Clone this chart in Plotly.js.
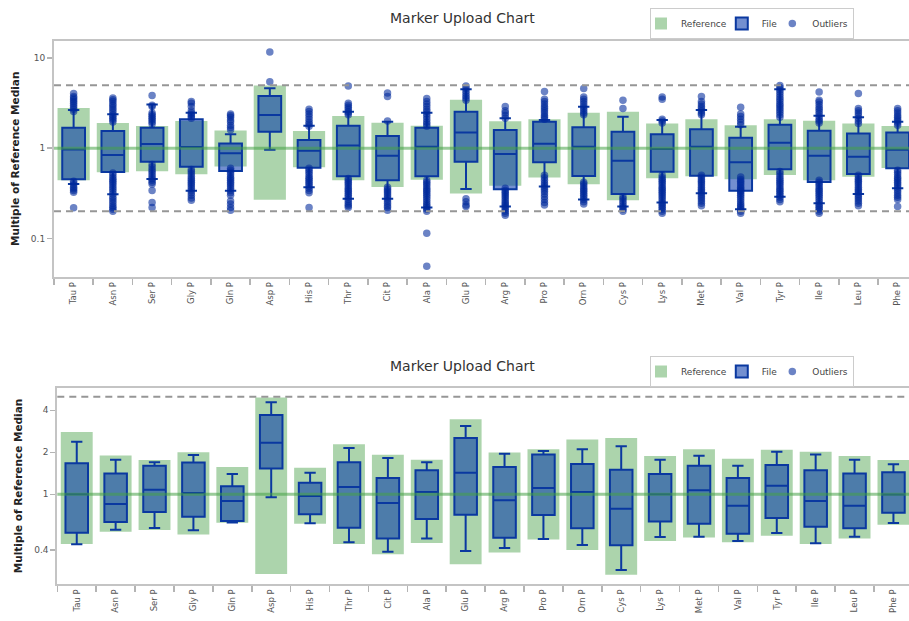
<!DOCTYPE html>
<html>
<head>
<meta charset="utf-8">
<script src="https://cdn.plot.ly/plotly-3.0.1.min.js"></script>
<style>html,body{margin:0;padding:0;background:#fff;}#chart{width:909px;height:621px;}</style>
</head>
<body>
<div id="chart"></div>
<script>
const categories = ["Tau P","Asn P","Ser P","Gly P","Gln P","Asp P","His P","Thr P","Cit P","Ala P","Glu P","Arg P","Pro P","Orn P","Cys P","Lys P","Met P","Val P","Tyr P","Ile P","Leu P","Phe P"];

// Reference ranges (shared by both charts)
const refLow  = [0.44, 0.54, 0.555, 0.515, 0.625, 0.268, 0.615, 0.44, 0.372, 0.447, 0.315, 0.383, 0.474, 0.398, 0.265, 0.463, 0.49, 0.453, 0.505, 0.44, 0.482, 0.605];
const refHigh = [2.8, 1.9, 1.76, 2.0, 1.57, 4.95, 1.55, 2.28, 1.92, 1.77, 3.45, 1.99, 2.1, 2.47, 2.53, 1.88, 2.1, 1.8, 2.09, 2.02, 1.88, 1.76];

// Chart 1 file box statistics
const file1Q1     = [0.452, 0.545, 0.709, 0.623, 0.56, 1.52, 0.608, 0.49, 0.44, 0.49, 0.709, 0.35, 0.698, 0.492, 0.31, 0.549, 0.495, 0.338, 0.583, 0.422, 0.517, 0.598];
const file1Median = [0.97, 0.84, 1.11, 1.03, 0.88, 2.33, 0.94, 1.07, 0.826, 1.04, 1.49, 0.862, 1.12, 1.04, 0.727, 0.98, 1.04, 0.698, 1.15, 0.826, 0.805, 0.96];
const file1Q3     = [1.69, 1.55, 1.69, 2.09, 1.13, 3.79, 1.23, 1.78, 1.37, 1.69, 2.54, 1.59, 1.97, 1.71, 1.52, 1.43, 1.62, 1.31, 1.82, 1.56, 1.46, 1.49];
const file1Lower  = [0.40, 0.308, 0.455, 0.338, 0.338, 0.96, 0.368, 0.275, 0.275, 0.22, 0.353, 0.225, 0.375, 0.27, 0.225, 0.25, 0.316, 0.21, 0.29, 0.245, 0.31, 0.36];
const file1Upper  = [2.65, 2.38, 3.05, 2.48, 1.43, 4.62, 1.78, 2.54, 1.97, 2.48, 4.5, 2.15, 2.05, 2.89, 2.23, 2.05, 2.65, 1.73, 4.5, 2.29, 2.2, 1.97];

// Chart 1 outliers, one list per category
const file1Outliers = [
  [4.05, 3.75, 3.6, 3.45, 3.3, 3.15, 3.0, 2.85, 2.7, 2.55, 0.43, 0.41, 0.39, 0.37, 0.355, 0.34, 0.325, 0.219],
  [3.6, 3.45, 3.3, 3.1, 2.95, 2.8, 2.65, 2.5, 2.35, 2.25, 2.15, 2.05, 1.95, 0.53, 0.5, 0.47, 0.45, 0.43, 0.41, 0.39, 0.37, 0.35, 0.33, 0.31, 0.29, 0.275, 0.26, 0.245, 0.23, 0.22, 0.21, 0.2],
  [3.85, 3.0, 2.9, 2.45, 2.35, 2.25, 2.15, 2.05, 1.95, 1.85, 0.66, 0.62, 0.58, 0.55, 0.52, 0.49, 0.46, 0.44, 0.42, 0.40, 0.34, 0.25, 0.22],
  [3.3, 3.15, 2.9, 2.6, 2.45, 2.35, 2.25, 2.15, 0.58, 0.55, 0.52, 0.49, 0.46, 0.44, 0.42, 0.40, 0.38, 0.36, 0.34, 0.32, 0.30, 0.28, 0.265],
  [2.4, 2.3, 2.2, 2.05, 1.95, 1.8, 1.7, 1.6, 0.6, 0.57, 0.54, 0.51, 0.48, 0.46, 0.44, 0.42, 0.40, 0.38, 0.36, 0.34, 0.32, 0.30, 0.26, 0.24, 0.22, 0.205],
  [11.7, 5.45],
  [2.7, 2.55, 2.4, 2.25, 2.1, 1.95, 1.85, 1.75, 0.6, 0.57, 0.54, 0.51, 0.48, 0.46, 0.44, 0.42, 0.40, 0.38, 0.36, 0.34, 0.32, 0.22],
  [4.9, 3.15, 3.0, 2.85, 2.7, 2.55, 2.45, 2.35, 0.46, 0.44, 0.42, 0.40, 0.38, 0.36, 0.345, 0.33, 0.315, 0.30, 0.285, 0.27, 0.255, 0.24, 0.23, 0.22],
  [4.1, 3.75, 2.0, 0.37, 0.35, 0.335, 0.32, 0.305, 0.29, 0.275, 0.26, 0.245, 0.23, 0.22, 0.205],
  [3.55, 3.3, 3.1, 2.9, 2.7, 2.55, 2.4, 2.25, 2.1, 1.95, 1.85, 1.75, 0.44, 0.42, 0.40, 0.38, 0.36, 0.345, 0.33, 0.315, 0.30, 0.285, 0.27, 0.255, 0.24, 0.23, 0.22, 0.21, 0.2, 0.114, 0.049],
  [4.9, 4.6, 4.3, 4.05, 3.8, 3.6, 3.4, 0.275, 0.255, 0.235, 0.225],
  [2.9, 2.6, 2.45, 2.3, 2.15, 0.36, 0.34, 0.325, 0.31, 0.295, 0.28, 0.265, 0.25, 0.24, 0.23, 0.22, 0.21, 0.2, 0.19, 0.18],
  [4.25, 3.5, 3.3, 3.1, 2.9, 2.75, 2.6, 2.45, 2.3, 2.2, 2.1, 0.5, 0.47, 0.44, 0.41, 0.39, 0.37, 0.35, 0.33, 0.31, 0.29, 0.27, 0.25, 0.235],
  [4.6, 3.7, 3.5, 3.3, 3.1, 2.9, 2.75, 2.6, 2.45, 2.35, 0.42, 0.40, 0.38, 0.36, 0.345, 0.33, 0.315, 0.30, 0.285, 0.27, 0.255, 0.24],
  [3.4, 2.75, 0.29, 0.275, 0.26, 0.245, 0.23, 0.22, 0.21, 0.2],
  [3.7, 3.5, 2.1, 2.0, 1.9, 0.5, 0.47, 0.45, 0.43, 0.41, 0.39, 0.37, 0.355, 0.34, 0.325, 0.31, 0.295, 0.28, 0.265, 0.25, 0.24, 0.23, 0.22, 0.21, 0.2, 0.19],
  [3.75, 3.3, 3.1, 2.9, 2.75, 2.6, 2.45, 2.35, 0.5, 0.475, 0.45, 0.43, 0.41, 0.39, 0.37, 0.35, 0.335, 0.32, 0.305, 0.29, 0.275, 0.26, 0.245, 0.23],
  [2.85, 2.4, 2.25, 2.1, 1.95, 1.82, 0.48, 0.45, 0.43, 0.41, 0.39, 0.37, 0.355, 0.34, 0.33, 0.315, 0.30, 0.285, 0.27, 0.255, 0.24, 0.23, 0.22, 0.21, 0.2, 0.19],
  [4.95, 4.7, 4.45, 4.2, 3.95, 3.7, 3.5, 3.3, 3.1, 2.95, 2.8, 2.65, 2.5, 2.35, 2.2, 0.55, 0.52, 0.49, 0.46, 0.44, 0.42, 0.40, 0.38, 0.36, 0.345, 0.33, 0.315, 0.30, 0.285, 0.27, 0.255],
  [4.2, 3.4, 3.25, 3.05, 2.85, 2.7, 2.55, 2.4, 2.25, 2.1, 2.0, 1.9, 0.44, 0.42, 0.40, 0.38, 0.36, 0.345, 0.33, 0.315, 0.30, 0.285, 0.27, 0.255, 0.24, 0.23, 0.22, 0.21, 0.2, 0.19],
  [4.05, 2.75, 2.6, 2.45, 2.3, 2.15, 2.0, 1.88, 0.5, 0.47, 0.45, 0.43, 0.41, 0.39, 0.37, 0.35, 0.335, 0.32, 0.305, 0.29, 0.275, 0.26, 0.245, 0.23],
  [2.75, 2.6, 2.45, 2.3, 2.2, 2.1, 2.0, 1.9, 1.8, 0.57, 0.54, 0.51, 0.48, 0.46, 0.44, 0.42, 0.40, 0.38, 0.36, 0.34, 0.32, 0.30, 0.285, 0.27, 0.225]
];

// Chart 2 file box statistics (no outliers)
const file2Q1     = [0.531, 0.633, 0.747, 0.691, 0.644, 1.53, 0.718, 0.576, 0.483, 0.665, 0.714, 0.489, 0.711, 0.570, 0.431, 0.637, 0.616, 0.522, 0.676, 0.586, 0.570, 0.738];
const file2Median = [1.0, 0.852, 1.08, 1.02, 0.895, 2.34, 0.973, 1.13, 0.866, 1.04, 1.43, 0.905, 1.11, 1.04, 0.789, 1.0, 1.07, 0.829, 1.15, 0.895, 0.829, 0.995];
const file2Q3     = [1.67, 1.41, 1.60, 1.69, 1.14, 3.70, 1.21, 1.70, 1.31, 1.485, 2.53, 1.57, 1.93, 1.65, 1.50, 1.40, 1.60, 1.31, 1.62, 1.485, 1.41, 1.44];
const file2Lower  = [0.438, 0.558, 0.573, 0.552, 0.627, 0.952, 0.619, 0.453, 0.388, 0.483, 0.392, 0.412, 0.478, 0.433, 0.287, 0.494, 0.496, 0.463, 0.528, 0.445, 0.496, 0.623];
const file2Upper  = [2.38, 1.77, 1.70, 1.91, 1.40, 4.56, 1.43, 2.15, 1.82, 1.70, 3.09, 1.95, 2.04, 2.10, 2.21, 1.77, 1.89, 1.60, 2.02, 1.93, 1.77, 1.64];
const file2Outliers = categories.map(() => []);

const chartTitle = "Marker Upload Chart";
const yTitle = "Multiple of Reference Median";
const refLines1 = [0.2, 5];
const refLines2 = [5];

const REF_COLOR = "rgb(172,212,172)";
const BOX_LINE = "rgb(10,56,160)";
const BOX_FILL = "rgba(0,51,170,0.55)";
const PT_COLOR = "rgba(0,42,155,0.58)";

function flatten(outliers) {
  const xs = [], ys = [];
  outliers.forEach((list, i) => list.forEach(v => { xs.push(categories[i]); ys.push(v); }));
  if (!xs.length) { xs.push(null); ys.push(null); }
  return {xs, ys};
}

function makeTraces(xa, ya, leg, q1, med, q3, lo, hi, outs) {
  const o = flatten(outs);
  return [
    {type: "bar", name: "Reference", x: categories, base: refLow,
     y: refHigh.map((h, i) => h - refLow[i]), width: 0.82,
     marker: {color: REF_COLOR, line: {width: 0}}, xaxis: xa, yaxis: ya, legend: leg, hoverinfo: "skip"},
    {type: "box", name: "File", x: categories, q1: q1, median: med, q3: q3,
     lowerfence: lo, upperfence: hi, width: 0.58, whiskerwidth: 0.5, boxpoints: false,
     fillcolor: BOX_FILL, line: {color: BOX_LINE, width: 2},
     xaxis: xa, yaxis: ya, legend: leg},
    {type: "scatter", mode: "markers", name: "Outliers", x: o.xs, y: o.ys,
     marker: {size: 7.5, color: PT_COLOR}, xaxis: xa, yaxis: ya, legend: leg, cliponaxis: true}
  ];
}

const data = [].concat(
  makeTraces("x", "y", "legend", file1Q1, file1Median, file1Q3, file1Lower, file1Upper, file1Outliers),
  makeTraces("x2", "y2", "legend2", file2Q1, file2Median, file2Q3, file2Lower, file2Upper, file2Outliers)
);

function xAxis(domainStart, rangeEnd, anchor) {
  return {domain: [domainStart, 1], type: "category", range: [-0.5, rangeEnd], anchor: anchor,
    tickson: "boundaries", ticks: "outside", ticklen: 6, tickcolor: "#b4b4b4", tickwidth: 1.5,
    tickangle: -90, tickfont: {size: 8.5, color: "#555"},
    showline: true, linecolor: "#c4c4c4", linewidth: 2, mirror: true,
    showgrid: false, zeroline: false, fixedrange: true};
}
function yAxis(domain, range, vals, anchor) {
  return {domain: domain, type: "log", range: range, anchor: anchor,
    tickmode: "array", tickvals: vals, ticktext: vals.map(String),
    ticks: "outside", ticklen: 5, tickcolor: "#b4b4b4", tickwidth: 1.5,
    tickfont: {size: 9, color: "#555"},
    showline: true, linecolor: "#c4c4c4", linewidth: 2,
    showgrid: false, zeroline: false, fixedrange: true,
    title: {text: yTitle, font: {size: 10.5, color: "#222", weight: "bold"}, standoff: 9}};
}

function lines(xref, yref, refs) {
  const s = [{type: "line", xref: xref + " domain", yref: yref, x0: 0, x1: 1, y0: 1, y1: 1,
    line: {color: "rgba(70,160,70,0.55)", width: 3}, layer: "above"}];
  refs.forEach(v => s.push({type: "line", xref: xref + " domain", yref: yref, x0: 0, x1: 1, y0: v, y1: v,
    line: {color: "rgb(150,150,150)", width: 2, dash: "7px,5px"}, layer: "above"}));
  return s;
}

function legendCfg(y) {
  return {orientation: "h", x: 650 / 909, xanchor: "left", y: y, yanchor: "top",
    bordercolor: "#cccccc", borderwidth: 1, bgcolor: "#fff", indentation: -10,
    font: {size: 9, color: "#444"}, itemclick: false, itemdoubleclick: false};
}

const layout = {
  width: 909, height: 621,
  margin: {l: 0, r: 0, t: 0, b: 0},
  paper_bgcolor: "#fff", plot_bgcolor: "#fff",
  font: {family: "DejaVu Sans, Verdana, sans-serif", color: "#555"},
  showlegend: true, barmode: "overlay", boxmode: "overlay",
  xaxis: xAxis(54 / 909, 21.29, "y"),
  yaxis: yAxis([1 - 276.7 / 621, 1 - 41 / 621], [-1.425, 1.189], [0.1, 1, 10], "x"),
  xaxis2: xAxis(57.3 / 909, 21.4, "y2"),
  yaxis2: yAxis([1 - 584 / 621, 1 - 388 / 621], [-0.643, 0.762], [0.4, 1, 2, 4], "x2"),
  legend: legendCfg(1 - 8 / 621),
  legend2: legendCfg(1 - 356 / 621),
  shapes: [].concat(lines("x", "y", refLines1), lines("x2", "y2", refLines2)),
  annotations: [
    {text: chartTitle, xref: "paper", yref: "paper", x: 462.5 / 909, y: 1 - 18 / 621,
     xanchor: "center", yanchor: "middle", showarrow: false, font: {size: 14, color: "#333"}},
    {text: chartTitle, xref: "paper", yref: "paper", x: 462.5 / 909, y: 1 - 366 / 621,
     xanchor: "center", yanchor: "middle", showarrow: false, font: {size: 14, color: "#333"}}
  ]
};

Plotly.newPlot("chart", data, layout, {displayModeBar: false, staticPlot: true});
</script>
</body>
</html>
